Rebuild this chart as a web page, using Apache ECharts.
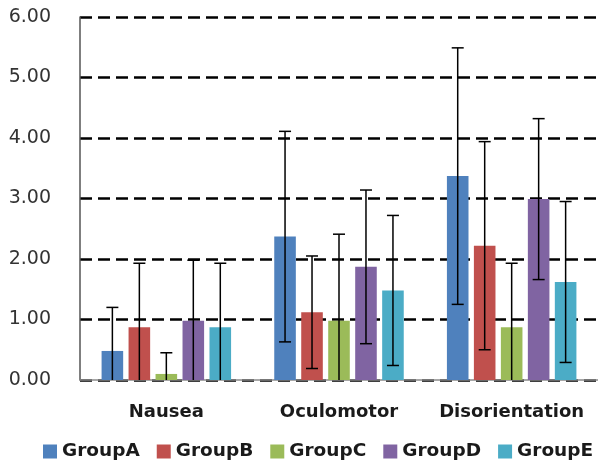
<!DOCTYPE html>
<html>
<head>
<meta charset="utf-8">
<script src="https://cdn.jsdelivr.net/npm/echarts@6/dist/echarts.min.js"></script>
<style>
  html, body { margin: 0; padding: 0; background: #fff; }
  #chart { width: 598px; height: 460px; }
</style>
</head>
<body>
<div id="chart"></div>
<script>
const categories = ['Nausea', 'Oculomotor', 'Disorientation'];
const groups = ['GroupA', 'GroupB', 'GroupC', 'GroupD', 'GroupE'];
const colors = ['#4F81BD', '#C0504D', '#9BBB59', '#8064A2', '#4BACC6'];

// means
const groupA = [0.48, 2.37, 3.37];
const groupB = [0.87, 1.12, 2.22];
const groupC = [0.10, 0.98, 0.87];
const groupD = [0.98, 1.87, 2.99];
const groupE = [0.87, 1.48, 1.62];

// standard deviations (error bar half-length)
const errA = [0.72, 1.74, 2.12];
const errB = [1.06, 0.93, 1.72];
const errC = [0.35, 1.43, 1.06];
const errD = [1.00, 1.27, 1.33];
const errE = [1.06, 1.24, 1.33];

const yTicks = [0, 1, 2, 3, 4, 5, 6];

const means = [groupA, groupB, groupC, groupD, groupE];
const errs = [errA, errB, errC, errD, errE];

const CAT_GAP = 0.25;
const BAR_GAP = 0.25;
const n = groups.length;

const chart = echarts.init(document.getElementById('chart'));

const barSeries = groups.map((name, i) => ({
  name: name,
  type: 'bar',
  data: means[i],
  barGap: (BAR_GAP * 100) + '%',
  barCategoryGap: (CAT_GAP * 100) + '%',
  itemStyle: { color: colors[i] },
  z: 2
}));

const errSeries = groups.map((name, i) => ({
  name: name,
  type: 'custom',
  clip: true,
  z: 5,
  data: categories.map((c, k) => [k, means[i][k] - errs[i][k], means[i][k] + errs[i][k]]),
  renderItem: function (params, api) {
    const k = api.value(0);
    const lo = api.coord([k, api.value(1)]);
    const hi = api.coord([k, api.value(2)]);
    const band = api.size([1, 0])[0];
    const groupW = band * (1 - CAT_GAP);
    const barW = groupW / (n + (n - 1) * BAR_GAP);
    const x = lo[0] - groupW / 2 + i * barW * (1 + BAR_GAP) + barW / 2;
    const cap = 6;
    const style = { stroke: '#000', lineWidth: 1.5 };
    return {
      type: 'group',
      children: [
        { type: 'line', shape: { x1: x, y1: lo[1], x2: x, y2: hi[1] }, style: style },
        { type: 'line', shape: { x1: x - cap, y1: hi[1], x2: x + cap, y2: hi[1] }, style: style },
        { type: 'line', shape: { x1: x - cap, y1: lo[1], x2: x + cap, y2: lo[1] }, style: style }
      ]
    };
  }
}));

chart.setOption({
  animation: false,
  grid: { left: 80, right: 0, top: 17, bottom: 80 },
  legend: {
    data: groups,
    left: 38,
    top: 437,
    width: 580,
    icon: 'rect',
    itemWidth: 14,
    itemHeight: 14,
    itemGap: 17,
    textStyle: { fontFamily: 'DejaVu Sans', fontWeight: 'bold', fontSize: 18.5, color: '#1a1a1a' }
  },
  xAxis: {
    type: 'category',
    data: categories,
    axisLine: { lineStyle: { color: '#8a8a8a', width: 1.5 } },
    axisTick: { show: false },
    axisLabel: { interval: 0, margin: 23, fontFamily: 'DejaVu Sans', fontWeight: 'bold', fontSize: 18, color: '#1a1a1a' }
  },
  yAxis: {
    type: 'value',
    min: yTicks[0],
    max: yTicks[yTicks.length - 1],
    interval: 1,
    axisLine: { show: true, lineStyle: { color: '#555', width: 1.5 } },
    axisTick: { show: false },
    axisLabel: {
      margin: 29,
      fontFamily: 'DejaVu Sans',
      fontSize: 19,
      color: '#333',
      formatter: v => v.toFixed(2)
    },
    splitLine: { lineStyle: { color: '#000', width: 2.5, type: [12, 6] } }
  },
  series: barSeries.concat(errSeries)
});
</script>
</body>
</html>
